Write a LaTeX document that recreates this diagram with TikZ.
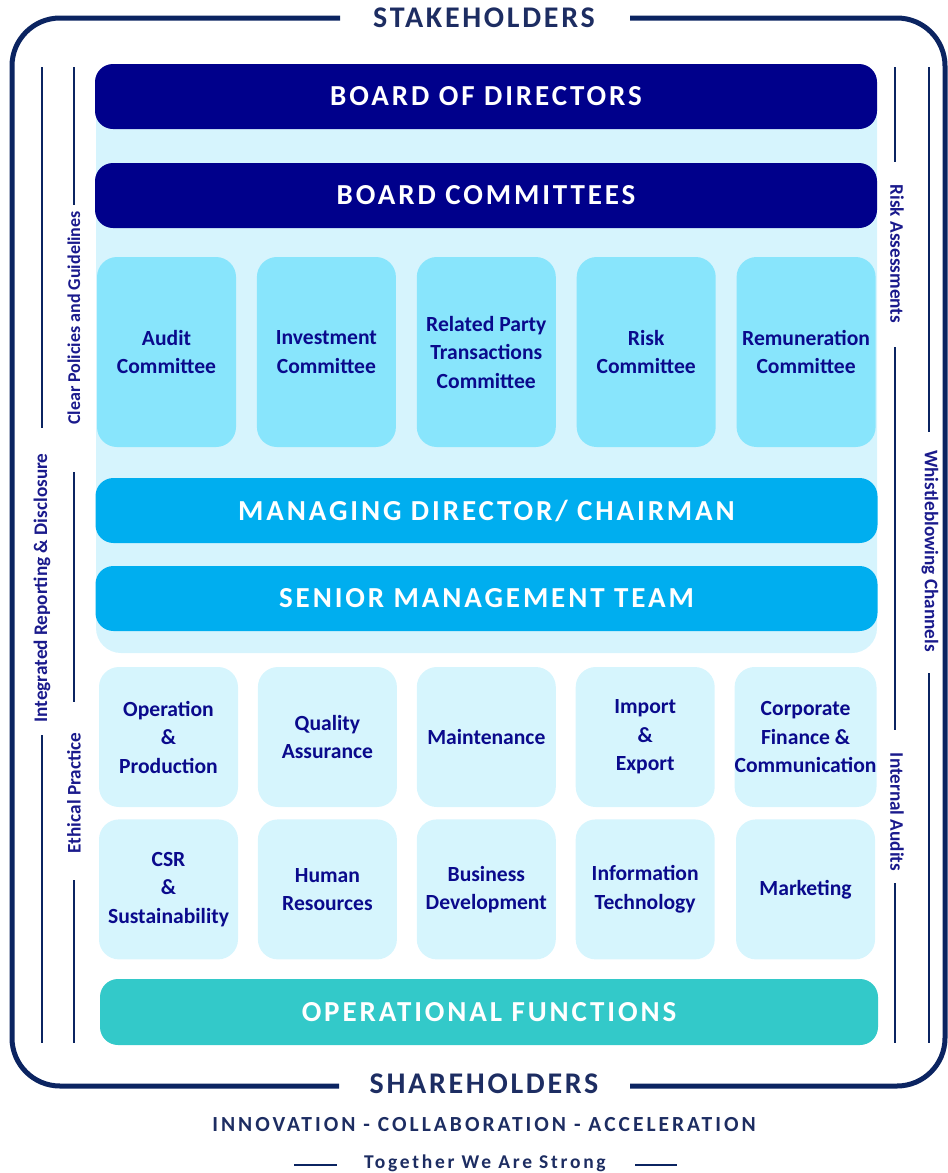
\documentclass[tikz,border=0pt]{standalone}
\usepackage{fontspec}
\setmainfont{Carlito}
\usepackage{tikz}
\usetikzlibrary{positioning}

\definecolor{framenavy}{HTML}{0B2461}
\definecolor{titlenavy}{HTML}{1D2D62}
\definecolor{sidecol}{HTML}{1A1A8C}
\definecolor{boardblue}{HTML}{00008B}
\definecolor{panelbg}{HTML}{D6F4FD}
\definecolor{combg}{HTML}{88E5FC}
\definecolor{mdblue}{HTML}{00AEEF}
\definecolor{funcbg}{HTML}{D6F5FD}
\definecolor{opteal}{HTML}{33C9C9}
\definecolor{boxtext}{HTML}{0A0A8C}

\begin{document}
\begin{tikzpicture}[
  x=1pt, y=-1pt,
  node distance=20pt,
  bar/.style={rectangle, rounded corners=18pt, minimum width=782pt, minimum height=65pt, text=white, font=\fontsize{29pt}{31pt}\selectfont\bfseries\addfontfeature{LetterSpace=10}},
  combox/.style={rectangle, rounded corners=20pt, fill=combg, minimum width=139pt, minimum height=190pt, inner sep=0pt, align=center, text=boxtext, font=\fontsize{21.6pt}{28.5pt}\selectfont\bfseries},
  funcbox/.style={combox, fill=funcbg, minimum height=140pt},
  sidelabel/.style={text=sidecol, inner sep=0pt, font=\fontsize{19.2pt}{20pt}\selectfont\bfseries},
  sideline/.style={draw=framenavy, line width=2pt},
  titlelabel/.style={text=titlenavy, font=\fontsize{30pt}{32pt}\selectfont\bfseries\addfontfeature{LetterSpace=9}},
  mottolabel/.style={text=titlenavy, font=\fontsize{21.5pt}{23pt}\selectfont\bfseries\addfontfeature{LetterSpace=14}},
]
\useasboundingbox (0,0) rectangle (948,1173);

\draw[framenavy, line width=5pt, rounded corners=48pt] (340,18) -- (12,18) -- (12,1086) -- (339,1086);
\draw[framenavy, line width=5pt, rounded corners=48pt] (630,1086) -- (945,1086) -- (945,18) -- (630,18);
\node[titlelabel] (stake) at (484,18) {STAKEHOLDERS};
\node[titlelabel] (share) at (484,1084) {SHAREHOLDERS};

\draw[sideline] (42,67) -- (42,428);
\draw[sideline] (42,735) -- (42,1043);
\draw[sideline] (74,67) -- (74,205);
\draw[sideline] (74,472) -- (74,702);
\draw[sideline] (74,880) -- (74,1043);
\draw[sideline] (895,67) -- (895,162);
\draw[sideline] (895,347) -- (895,730);
\draw[sideline] (895,883) -- (895,1043);
\draw[sideline] (929,67) -- (929,432);
\draw[sideline] (929,673) -- (929,1043);
\node[sidelabel, rotate=90] (report) at (42,588) {Integrated Reporting \& Disclosure};
\node[sidelabel, rotate=90, font=\fontsize{18pt}{20pt}\selectfont\bfseries] (policy) at (74,318) {Clear Policies and Guidelines};
\node[sidelabel, rotate=90] (ethic) at (74,793) {Ethical Practice};
\node[sidelabel, rotate=-90] (risk) at (897,254) {Risk Assessments};
\node[sidelabel, rotate=-90] (audits) at (897,812) {Internal Audits};
\node[sidelabel, rotate=-90] (whistle) at (930,551) {Whistleblowing Channels};

\fill[panelbg, rounded corners=25pt] (96,80) rectangle (877,653);

\node[bar, fill=boardblue] (board) at (486,96.5) {BOARD OF DIRECTORS};
\node[bar, fill=boardblue] (boardcom) at (486,195.5) {BOARD COMMITTEES};

\node[combox] (auditcom) at (166.5,352) {Audit\\Committee};
\node[combox, right=20.5pt of auditcom] (investcom) {Investment\\Committee};
\node[combox, right=20.5pt of investcom] (partycom) {Related Party\\Transactions\\Committee};
\node[combox, right=20.5pt of partycom] (riskcom) {Risk\\Committee};
\node[combox, right=20.5pt of riskcom] (remucom) {Remuneration\\Committee};

\node[bar, fill=mdblue] (md) at (486.5,510.5) {MANAGING DIRECTOR/ CHAIRMAN};
\node[bar, fill=mdblue] (senior) at (486.5,598.5) {SENIOR MANAGEMENT TEAM};

\node[funcbox] (oper) at (168.5,737) {Operation\\\&\\Production};
\node[funcbox, right=19.5pt of oper] (quality) {Quality\\Assurance};
\node[funcbox, right=19.5pt of quality] (maint) {Maintenance};
\node[funcbox, right=19.5pt of maint] (import) {Import\\\&\\Export};
\node[funcbox, right=19.5pt of import] (finance) {Corporate\\Finance \&\\Communication};

\node[funcbox, below=12pt of oper] (csr) {CSR\\\&\\Sustainability};
\node[funcbox, below=12pt of quality] (human) {Human\\Resources};
\node[funcbox, below=12pt of maint] (busdev) {Business\\Development};
\node[funcbox, below=12pt of import] (infotech) {Information\\Technology};
\node[funcbox, below=12pt of finance] (market) {Marketing};

\node[bar, fill=opteal, minimum width=778pt, minimum height=66pt] (opfunc) at (489,1012) {OPERATIONAL FUNCTIONS};

\node[mottolabel] (motto) at (484,1125) {INNOVATION - COLLABORATION - ACCELERATION};
\node[mottolabel, font=\fontsize{19.5pt}{21pt}\selectfont\bfseries\addfontfeature{LetterSpace=14}] (strong) at (485,1163) {Together We Are Strong};
\draw[sideline] (294,1165) -- (337,1165);
\draw[sideline] (635,1165) -- (677,1165);
\end{tikzpicture}
\end{document}
